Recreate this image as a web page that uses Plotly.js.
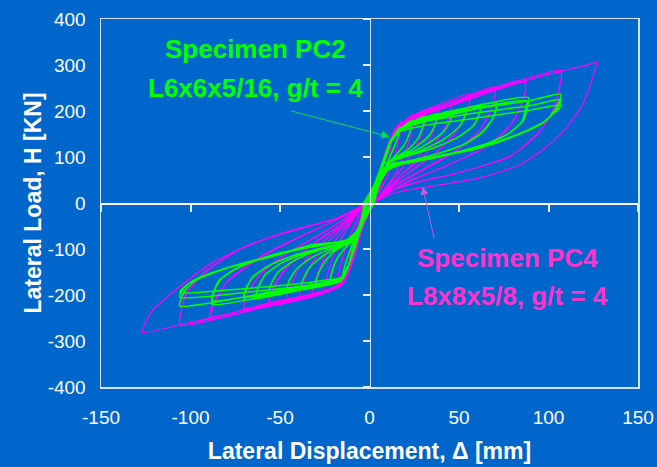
<!DOCTYPE html>
<html>
<head>
<meta charset="utf-8">
<script src="https://cdn.plot.ly/plotly-3.0.1.min.js"></script>
<style>html,body{margin:0;padding:0;background:#0066cc;}#chart{width:657px;height:467px;}</style>
</head>
<body>
<div id="chart"></div>
<script>
// Specimen PC4 (L8x8x5/8) hysteresis: displacement [mm], load [kN]
var pc4Disp = [
  0,4,8,7,4,1,-3,-7,-6,-3,-1,
  4,9,13,12,9,5,2,-4,-9,-12,-11,-8,-4,-2,
  4,9,14,18,17,14,9,4,1.5,-4,-9,-14,-18,-17,-13,-8,-3,-1,
  5,10,15,20,25,24,21,16,10,4,2.5,-4,-9,-14,-20,-25,-24,-20,-14,-8,-3.5,-1.5,
  5,10,15,20,32,31,27,20,12,5,1,-4,-9,-14,-20,-32,-31,-26,-18,-10,-4,-2.5,
  5,10,15,21,39,38,34,26,16,7,2,-4,-9,-14,-21,-39,-38,-32,-22,-12,-4.5,-2,
  5,10,15,22,46,45,40,30,18,8,1.5,-4,-9,-15,-22,-46,-45,-38,-26,-14,-5,-3,
  5,10,15,23,56,55,48,36,22,9,2.5,-4,-9,-15,-24,-56,-55,-46,-32,-17,-6,-1.5,
  5,10,15,23,56,55,49,38,24,10,2,-4,-9,-15,-24,-56,-55,-47,-33,-18,-6,-2,
  5,10,15,24,47,70,69,62,48,30,14,4,1,-4,-9,-15,-25,-50,-70,-69,-60,-42,-24,-10,-3,-2.5,
  5,10,15,24,47,70,69,63,50,32,15,5,2,-4,-9,-15,-25,-50,-70,-69,-61,-44,-26,-11,-4,-2,
  5,10,15,25,55,87,86,78,62,40,20,8,1.5,-4,-9,-15,-26,-55,-89,-88,-78,-58,-35,-16,-5,-3,
  5,10,15,25,55,87,86,80,66,45,24,10,2.5,-4,-9,-15,-26,-55,-88,-87,-79,-60,-38,-18,-6,-1.5,
  5,10,15,25,65,107,106,104,96,80,52,24,10,2,-4,-9,-15,-27,-65,-106,-105,-103,-92,-72,-45,-20,-6,-3,
  5,10,15,25,65,107,106,103,94,78,50,24,10,3,-4,-9,-15,-27,-65,-106,-105,-102,-90,-70,-44,-20,-6,-2,
  4,9,14,20,45,75,100,120,127,126,124,119,110,98,84,61,34,17,8,2,-4,-9,-13,-18,-41,-78,-106,-127,-125,-121,-106,-87,-60,-32,-13,-4,-2
];
var pc4Load = [
  0,50,95,70,30,0,-40,-90,-60,-20,0,
  48,112,150,120,70,25,0,-50,-115,-150,-115,-65,-20,0,
  47,110,158,178,150,100,50,15,0,-52,-120,-165,-180,-150,-95,-45,-10,0,
  55,118,162,180,192,165,120,75,38,8,0,-50,-118,-165,-183,-192,-165,-115,-65,-30,-8,0,
  57,120,163,180,203,175,130,85,45,10,0,-52,-120,-168,-185,-203,-178,-125,-75,-38,-10,0,
  56,119,164,182,212,185,140,92,55,18,0,-53,-121,-168,-188,-210,-185,-130,-80,-42,-10,0,
  55,118,163,184,222,195,148,100,62,22,0,-54,-122,-172,-190,-215,-190,-135,-85,-45,-12,0,
  54,117,162,185,236,205,152,105,66,25,0,-54,-122,-173,-193,-222,-195,-140,-90,-50,-14,0,
  52,114,158,182,230,206,158,112,72,30,0,-53,-120,-170,-190,-218,-194,-142,-94,-54,-16,0,
  53,116,160,186,220,252,215,160,112,72,36,5,0,-55,-123,-174,-195,-215,-233,-205,-150,-100,-60,-24,-5,0,
  51,113,157,183,216,247,216,165,118,78,40,10,0,-54,-121,-172,-192,-212,-229,-204,-155,-105,-65,-27,-6,0,
  52,115,160,187,230,268,225,165,115,76,44,15,0,-56,-124,-176,-197,-222,-252,-222,-165,-110,-66,-32,-8,0,
  50,112,156,182,224,262,228,175,125,84,50,20,0,-54,-121,-172,-192,-216,-246,-220,-170,-116,-72,-36,-10,0,
  51,114,159,188,242,288,250,210,160,105,68,43,22,0,-57,-125,-177,-199,-232,-266,-235,-200,-150,-100,-62,-36,-10,0,
  50,112,156,184,238,283,248,205,150,100,66,42,22,0,-56,-123,-175,-196,-228,-262,-232,-195,-145,-96,-60,-35,-10,0,
  45,110,160,180,218,252,280,298,306,290,264,213,163,119,83,54,36,25,12,0,-50,-120,-162,-182,-205,-240,-265,-281,-260,-233,-182,-128,-81,-48,-26,-8,0
];

// Specimen PC2 (L6x6x5/16) hysteresis
var pc2Disp = [
  0,4,8,12,11,8,4,1,-4,-8,-11,-10,-7,-3,-1,
  3,8,12,17,16,13,9,4,1.5,-4,-8,-12,-15,-14,-11,-7,-3,-2,
  3,8,12,17,24,23,20,15,10,5,2,-4,-8,-12,-16,-22,-21,-18,-13,-8,-3.5,-1.5,
  3,8,12,17,31,30,27,21,14,9,4,0.5,-4,-8,-12,-16,-30,-29,-25,-19,-12,-7,-3.5,-2.5,
  3,8,12,17,27,38,37,34,27,19,12,8,3.5,2.5,-4,-8,-12,-16,-25,-38,-37,-33,-25,-16,-10,-6,-3,-1,
  3,8,12,17,30,46,45,42,35,26,17,11,7,3.5,1,-4,-8,-12,-16,-28,-46,-45,-41,-33,-23,-14,-9,-5,-3,-2,
  3,8,12,17,34,54,53,50,42,31,20,12,7,3.5,2,-4,-8,-12,-16,-32,-56,-55,-51,-42,-30,-18,-10,-5.5,-3.5,-3,
  3,8,12,17,38,62,61,58,49,36,22,12,7,3,1.5,-4,-8,-12,-16,-36,-63,-62,-58,-48,-34,-20,-11,-5,-2.5,-1.5,
  3,8,12,17,42,71,70,69,63,54,39,20,12,7,4,2.5,-4,-8,-12,-16,-40,-70,-69,-66,-58,-45,-28,-14,-8,-4.5,-2.5,-2,
  3,8,12,17,42,71,70,68,62,52,37,20,12,7,3.5,1,-4,-8,-12,-16,-40,-70,-69,-65,-56,-43,-27,-14,-8,-5,-3,-2.5,
  3,8,12,17,50,89,88,86,78,64,44,22,12,7,4,2,-4,-8,-12,-16,-48,-88,-87,-84,-74,-58,-38,-18,-9,-4.5,-2,-1,
  3,8,12,17,50,88,87,85,77,63,43,22,12,7,3.5,1.5,-4,-8,-12,-16,-48,-88,-87,-83,-73,-57,-37,-18,-9,-5,-3,-2.5,
  3,8,12,17,30,60,89,107,106,104,98,80,61,34,17,10,6,3,2,-4,-8,-12,-16,-25,-41,-69,-106,-105,-102,-97,-78,-50,-32,-13,-7,-3.5,-2,
  3,8,12,17,30,60,90,107,106,104,97,80,60,34,17,10,6,3,1,-4,-8,-12,-16,-25,-41,-69,-106,-105,-102,-96,-78,-50,-32,-13,-7,-4,-3,
  3,8,12,17,30,60,90,107,106,103,96,79,60,34,17,10,6,3.5,2.5,-4,-8,-12,-16,-25,-41,-69,-106,-105,-101,-95,-77,-50,-32,-13,-7,-3,-1.5
];
var pc2Load = [
  0,45,95,140,120,85,40,0,-48,-95,-130,-110,-70,-30,0,
  40,94,136,165,145,115,80,40,0,-46,-96,-140,-160,-140,-105,-65,-25,0,
  42,96,136,160,180,160,130,105,85,48,0,-45,-95,-140,-165,-172,-150,-120,-95,-75,-30,0,
  42,96,136,160,188,168,140,115,97,80,42,0,-45,-95,-140,-166,-178,-158,-128,-103,-87,-65,-28,0,
  42,96,136,160,180,194,175,150,125,105,92,70,30,0,-45,-95,-140,-166,-176,-184,-165,-138,-112,-95,-85,-60,-20,0,
  42,96,136,160,182,199,180,158,135,115,100,88,65,30,0,-45,-95,-140,-167,-178,-190,-170,-145,-120,-102,-90,-80,-55,-20,0,
  42,96,136,160,186,205,186,165,140,118,102,90,65,30,0,-45,-95,-140,-168,-182,-196,-176,-150,-125,-105,-92,-82,-55,-20,0,
  42,96,136,160,190,210,190,168,142,120,103,90,65,30,0,-45,-95,-140,-168,-185,-202,-182,-155,-128,-108,-94,-83,-55,-20,0,
  42,96,136,161,195,217,195,184,155,130,108,90,85,62,28,0,-46,-96,-141,-170,-190,-210,-190,-165,-140,-118,-100,-88,-78,-50,-15,0,
  41,94,134,158,190,212,193,178,150,126,106,90,84,60,27,0,-45,-94,-138,-165,-184,-205,-186,-160,-136,-115,-98,-86,-76,-48,-14,0,
  42,96,136,161,202,229,205,180,152,127,106,88,82,60,27,0,-46,-96,-141,-170,-195,-220,-196,-168,-142,-118,-100,-86,-76,-48,-14,0,
  41,94,134,158,196,222,200,176,149,124,104,87,81,58,26,0,-45,-94,-138,-166,-188,-212,-192,-165,-139,-116,-98,-85,-75,-47,-13,0,
  42,96,136,162,185,205,222,237,222,205,177,144,119,97,83,70,45,15,0,-46,-96,-141,-170,-178,-189,-204,-224,-205,-185,-168,-139,-110,-91,-81,-60,-25,0,
  41,94,134,158,176,196,212,225,213,200,175,145,120,99,85,72,46,15,0,-45,-94,-138,-165,-172,-182,-194,-205,-192,-178,-165,-140,-112,-93,-83,-62,-26,0,
  40,92,132,155,168,185,202,213,205,195,172,143,119,98,84,71,45,15,0,-44,-92,-136,-162,-168,-176,-186,-195,-188,-175,-162,-138,-111,-92,-82,-61,-25,0
];

var xTicks = [-150,-100,-50,0,50,100,150];
var yTicks = [-400,-300,-200,-100,0,100,200,300,400];
var xMinorTicks = [-150,-100,-50,50,100,150];
var yMinorTicks = [-400,-300,-200,-100,100,200,300,400];

var FONT = 'Liberation Sans, Arial, sans-serif';
var traces = [
  {x: pc4Disp, y: pc4Load, type: 'scatter', mode: 'lines', name: 'PC4',
   line: {color: '#ff00ff', width: 1.2, shape: 'spline', smoothing: 0.6}, hoverinfo: 'skip'},
  {x: pc2Disp, y: pc2Load, type: 'scatter', mode: 'lines', name: 'PC2',
   line: {color: '#00ff00', width: 1.5, shape: 'spline', smoothing: 0.6}, hoverinfo: 'skip'},
  {x: [0], y: [0], xaxis: 'x2', yaxis: 'y', type: 'scatter', mode: 'markers',
   marker: {opacity: 0, size: 1}, hoverinfo: 'skip'},
  {x: [0], y: [0], xaxis: 'x', yaxis: 'y2', type: 'scatter', mode: 'markers',
   marker: {opacity: 0, size: 1}, hoverinfo: 'skip'}
];

var layout = {
  width: 657, height: 467,
  paper_bgcolor: '#0066cc', plot_bgcolor: '#0066cc',
  margin: {l: 101, r: 19, t: 19, b: 80},
  showlegend: false,
  font: {family: FONT, color: '#ffffff'},
  xaxis: {
    range: [-150, 150], tickvals: xTicks, ticktext: xTicks.map(String),
    showgrid: false, zeroline: false,
    showline: true, mirror: true, linecolor: '#d6e2f5', linewidth: 1.5,
    ticks: '', ticklabelstandoff: 13,
    tickfont: {family: FONT, size: 19, color: '#ffffff'},
    title: {text: 'Lateral Displacement, Δ [mm]', font: {family: FONT, size: 23, color: '#ffffff', weight: 'bold'}, standoff: 15}
  },
  yaxis: {
    range: [-400, 400], tickvals: yTicks, ticktext: yTicks.map(String),
    showgrid: false, zeroline: false,
    showline: true, mirror: true, linecolor: '#d6e2f5', linewidth: 1.5,
    ticks: '', ticklabelstandoff: 10,
    tickfont: {family: FONT, size: 19, color: '#ffffff'},
    title: {text: 'Lateral Load, H [KN]', font: {family: FONT, size: 23, color: '#ffffff', weight: 'bold'}}
  },
  xaxis2: {
    overlaying: 'x', anchor: 'free', position: 0.5, side: 'bottom', range: [-150, 150],
    tickvals: xMinorTicks, ticktext: xMinorTicks.map(function () { return ''; }),
    showticklabels: true, ticks: 'outside', ticklen: 7, tickcolor: '#e8f0ff', tickwidth: 2,
    showgrid: false, zeroline: false, showline: true, linecolor: '#ffffff', linewidth: 1.5
  },
  yaxis2: {
    overlaying: 'y', anchor: 'free', position: 0.5, side: 'left', range: [-400, 400],
    tickvals: yMinorTicks, ticktext: yMinorTicks.map(function () { return ''; }),
    showticklabels: true, ticks: 'outside', ticklen: 7, tickcolor: '#e8f0ff', tickwidth: 2,
    showgrid: false, zeroline: false, showline: true, linecolor: '#d6e2f5', linewidth: 1.5
  },
  annotations: [
    {x: -63.6, y: 335, xref: 'x', yref: 'y', text: '<b>Specimen PC2</b>', showarrow: false,
     font: {family: FONT, size: 26, color: '#00ff00'}, xanchor: 'center', yanchor: 'middle'},
    {x: -63.6, y: 250, xref: 'x', yref: 'y', text: '<b>L6x6x5/16, g/t = 4</b>', showarrow: false,
     font: {family: FONT, size: 26, color: '#00ff00'}, xanchor: 'center', yanchor: 'middle'},
    {x: 77, y: -120, xref: 'x', yref: 'y', text: '<b>Specimen PC4</b>', showarrow: false,
     font: {family: FONT, size: 26, color: '#ff33cc'}, xanchor: 'center', yanchor: 'middle'},
    {x: 77, y: -202, xref: 'x', yref: 'y', text: '<b>L8x8x5/8, g/t = 4</b>', showarrow: false,
     font: {family: FONT, size: 26, color: '#ff33cc'}, xanchor: 'center', yanchor: 'middle'},
    {x: 11.2, y: 144, ax: -44.6, ay: 201, xref: 'x', yref: 'y', axref: 'x', ayref: 'y', text: '',
     showarrow: true, arrowhead: 2, arrowsize: 1.6, arrowwidth: 1, arrowcolor: '#00dd55'},
    {x: 29.7, y: 35.5, ax: 36.3, ay: -80.6, xref: 'x', yref: 'y', axref: 'x', ayref: 'y', text: '',
     showarrow: true, arrowhead: 2, arrowsize: 1.6, arrowwidth: 1, arrowcolor: '#cc55dd'}
  ]
};

Plotly.newPlot('chart', traces, layout, {displayModeBar: false, staticPlot: true});
</script>
</body>
</html>
